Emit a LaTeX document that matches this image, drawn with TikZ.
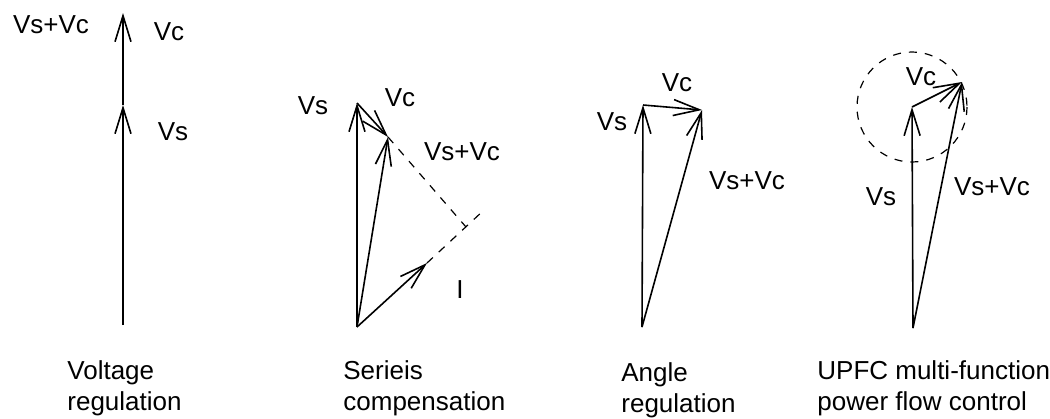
\documentclass[tikz,border=0pt]{standalone}
\usepackage{fontspec}
\setmainfont{Liberation Sans}
\usetikzlibrary{arrows.meta}
\tikzset{
  phasor/.style={draw,line width=0.8pt,-{Straight Barb[length=13pt,width=8pt]}},
  guide/.style={draw,line width=0.6pt,dash pattern=on 4pt off 4pt},
  lbl/.style={font=\fontsize{13}{15.5}\selectfont,inner sep=0pt},
  caption/.style={font=\fontsize{13}{15.5}\selectfont,align=left,anchor=north west,inner sep=0pt}
}
\begin{document}
\begin{tikzpicture}[x=0.5pt,y=-0.5pt]
\useasboundingbox (0,0) rectangle (1050,418);
\coordinate (o1) at (123,325);
\coordinate (s1) at (123,105);
\coordinate (c1) at (123,13);
\draw[phasor] (o1) -- (s1);
\draw[phasor] (s1) -- (c1);
\node[lbl] (sc1) at (51,25) {Vs+Vc};
\node[lbl] (vc1) at (169,32) {Vc};
\node[lbl] (vs1) at (173,132) {Vs};
\node[caption] (cap1) at (67,360) {Voltage\\regulation};
\coordinate (o2) at (357,327);
\coordinate (s2) at (357,103);
\coordinate (c2) at (388,137);
\coordinate (i2) at (427,263);
\coordinate (x2) at (466,227);
\coordinate (e2) at (484,210);
\draw[phasor] (o2) -- (s2);
\draw[phasor] (s2) -- (c2);
\draw[phasor] (o2) -- (c2);
\draw[phasor] (o2) -- (i2);
\draw[guide] (c2) -- (x2);
\draw[guide] (i2) -- (e2);
\node[lbl] (vs2) at (313,106) {Vs};
\node[lbl] (vc2) at (400,98) {Vc};
\node[lbl] (sc2) at (462,152) {Vs+Vc};
\node[lbl] (i2l) at (460,290) {I};
\node[caption] (cap2) at (343,360) {Serieis\\compensation};
\coordinate (o3) at (642,327);
\coordinate (s3) at (643,105);
\coordinate (c3) at (702,110);
\draw[phasor] (o3) -- (s3);
\draw[phasor] (s3) -- (c3);
\draw[phasor] (o3) -- (c3);
\node[lbl] (vc3) at (677,83) {Vc};
\node[lbl] (vs3) at (612,122) {Vs};
\node[lbl] (sc3) at (747,181) {Vs+Vc};
\node[caption] (cap3) at (621,362) {Angle\\regulation};
\coordinate (o4) at (913,328);
\coordinate (s4) at (912,107);
\coordinate (c4) at (962,82);
\draw[guide] (s4) circle[radius=55];
\draw[phasor] (o4) -- (s4);
\draw[phasor] (s4) -- (c4);
\draw[phasor] (o4) -- (c4);
\node[lbl] (vc4) at (921,77) {Vc};
\node[lbl] (vs4) at (881,197) {Vs};
\node[lbl] (sc4) at (992,187) {Vs+Vc};
\node[caption] (cap4) at (817,360) {UPFC multi-function\\power flow control};
\end{tikzpicture}
\end{document}
